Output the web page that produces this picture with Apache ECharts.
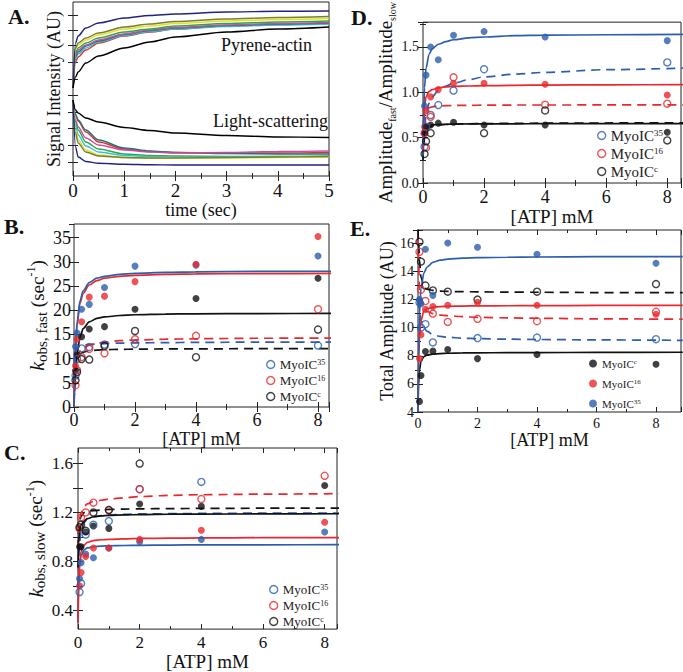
<!DOCTYPE html>
<html>
<head>
<meta charset="utf-8">
<script src="https://cdn.jsdelivr.net/npm/echarts@6/dist/echarts.min.js"></script>
<style>
  html, body { margin: 0; padding: 0; background: #fff; }
  #chart { width: 683px; height: 672px; }
</style>
</head>
<body>
<div id="chart"></div>
<script>
const FONT = 'Liberation Serif, serif'
const BLUE = '#2d5eab'
const RED = '#e8282d'
const BLACK = '#111111'

// ---- panel A: stopped-flow traces ----
const timeSec = [0, 0.05, 0.1, 0.25, 0.5, 1, 1.5, 2, 3, 4, 5]
const pyreneNavy = [8.8, 13.3, 14.0, 14.8, 15.3, 15.8, 16.05, 16.2, 16.4, 16.47, 16.5]
const pyreneOlive = [8.8, 12.8, 13.3, 13.8, 14.3, 14.9, 15.2, 15.45, 15.7, 15.85, 15.95]
const pyreneYellow = [8.8, 12.6, 13.1, 13.6, 14.1, 14.7, 15.0, 15.25, 15.5, 15.65, 15.75]
const pyreneGreen = [8.8, 12.3, 12.8, 13.3, 13.8, 14.4, 14.7, 15.0, 15.25, 15.4, 15.5]
const pyreneMagenta = [8.8, 12.1, 12.6, 13.1, 13.6, 14.2, 14.6, 14.85, 15.1, 15.25, 15.35]
const pyreneTeal = [8.8, 11.9, 12.4, 13.0, 13.5, 14.15, 14.55, 14.8, 15.05, 15.2, 15.3]
const pyreneCyan = [8.8, 11.7, 12.2, 12.8, 13.4, 14.05, 14.45, 14.7, 14.95, 15.1, 15.2]
const pyreneRed = [8.8, 11.4, 11.9, 12.6, 13.3, 14.0, 14.4, 14.7, 15.0, 15.15, 15.25]
const pyreneBlack = [8.8, 9.9, 10.4, 11.3, 12.0, 12.8, 13.4, 13.9, 14.4, 14.7, 14.9]
const scatterBlack = [7.6, 6.6, 6.3, 5.8, 5.4, 4.85, 4.55, 4.3, 4.05, 3.9, 3.85]
const scatterRed = [7.6, 6.1, 5.5, 4.4, 3.4, 2.7, 2.45, 2.35, 2.3, 2.3, 2.35]
const scatterTeal = [7.6, 6.2, 5.6, 4.6, 3.6, 2.8, 2.5, 2.35, 2.25, 2.2, 2.2]
const scatterMagenta = [7.6, 5.6, 4.9, 3.8, 3.1, 2.6, 2.4, 2.3, 2.35, 2.45, 2.5]
const scatterGreen = [7.6, 5.4, 4.6, 3.4, 2.7, 2.2, 2.05, 2.0, 1.95, 1.95, 1.95]
const scatterCyan = [7.6, 5.0, 4.1, 3.0, 2.4, 2.05, 1.95, 1.9, 1.9, 1.95, 2.0]
const scatterYellow = [7.6, 4.6, 3.6, 2.6, 2.1, 1.85, 1.8, 1.8, 1.8, 1.85, 1.9]
const scatterOlive = [7.6, 4.3, 3.3, 2.4, 2.0, 1.85, 1.8, 1.8, 1.85, 1.9, 1.95]
const scatterNavy = [7.6, 2.9, 1.9, 1.45, 1.27, 1.17, 1.12, 1.1, 1.1, 1.1, 1.1]
const signalTicks = [1.4, 3.1, 4.8, 6.4, 8.1, 9.7, 11.4, 13.1, 14.6, 16.1]

// ---- measured points, shared ATP concentrations (mM) ----
const atp = [0.05, 0.1, 0.25, 0.5, 1, 2, 4, 8]
const fitAtp = [0, 0.02, 0.05, 0.1, 0.2, 0.3, 0.5, 0.75, 1, 1.5, 2, 3, 4, 6, 8.9]

// panel B: k_obs fast
const bBlueFilled = [12.5, 15.3, 20.2, 21.2, 24.7, 29.1, 29.3, 31.2]
const bRedFilled = [8.5, 14.0, 17.6, 22.7, 22.9, 25.9, 29.5, 35.2]
const bBlackFilled = [7.5, 10.8, 14.5, 16.1, 16.6, 20.2, 22.4, 26.6]
const bBlueOpen = [6.5, 9.9, 12.1, 12.4, 12.9, 13.0, null, 12.7]
const bRedOpen = [4.5, 7.6, 10.3, 12.0, 11.1, 14.0, 14.7, 20.2]
const bBlackOpen = [5.5, 7.2, 9.9, 9.8, 12.6, 15.7, 10.3, 16.0]
const bBlueFit = [0, 6.5, 12.5, 17.5, 22.0, 24.0, 25.7, 26.6, 27.0, 27.4, 27.6, 27.8, 27.9, 28.0, 28.05]
const bRedFit = [0, 6, 12, 17, 21.5, 23.5, 25.2, 26.1, 26.6, 27.0, 27.2, 27.4, 27.5, 27.55, 27.6]
const bBlackFit = [0, 3, 7, 11, 14.5, 16.2, 17.6, 18.3, 18.6, 18.9, 19.05, 19.2, 19.25, 19.3, 19.35]
const bBlueDash = [8, 10, 11.5, 12.2, 12.6, 12.8, 12.9, 13.0, 13.1, 13.2, 13.25, 13.3, 13.35, 13.4, 13.4]
const bRedDash = [7, 8.5, 9.5, 10.5, 11.5, 12.2, 12.8, 13.2, 13.4, 13.7, 13.85, 14.0, 14.1, 14.2, 14.25]
const bBlackDash = [5, 7, 9, 10.3, 11.0, 11.3, 11.6, 11.75, 11.85, 11.9, 11.95, 12.0, 12.0, 12.05, 12.05]

// panel C: k_obs slow
const cBlueFilled = [0.66, 0.79, 0.86, 0.83, 0.91, 0.96, 0.98, 1.04]
const cRedFilled = [0.60, 0.71, 0.84, 0.91, 0.91, 0.98, 1.055, 1.12]
const cBlackFilled = [0.92, 0.92, 1.04, 1.09, 1.07, 1.27, 1.25, 1.42]
const cBlueOpen = [0.55, 0.62, 1.02, 1.10, 1.13, 1.39, 1.45, null]
const cRedOpen = [1.07, 1.16, 1.20, 1.28, 1.22, 1.39, 1.31, 1.50]
const cBlackOpen = [1.08, 1.10, 1.05, 1.20, 1.22, 1.60, null, null]
const cBlueFit = [0.3, 0.6, 0.76, 0.85, 0.895, 0.91, 0.92, 0.925, 0.928, 0.93, 0.932, 0.934, 0.935, 0.936, 0.937]
const cRedFit = [0.3, 0.6, 0.78, 0.88, 0.935, 0.955, 0.97, 0.977, 0.981, 0.985, 0.988, 0.99, 0.992, 0.994, 0.995]
const cBlackFit = [0.75, 0.95, 1.05, 1.1, 1.13, 1.15, 1.165, 1.172, 1.176, 1.18, 1.183, 1.186, 1.187, 1.188, 1.19]
const cBlueDash = [0.6, 0.8, 0.95, 1.05, 1.12, 1.145, 1.165, 1.175, 1.18, 1.185, 1.188, 1.19, 1.192, 1.195, 1.195]
const cRedDash = [0.9, 1.05, 1.15, 1.2, 1.25, 1.27, 1.29, 1.3, 1.31, 1.32, 1.33, 1.34, 1.345, 1.35, 1.355]
const cBlackDash = [0.9, 1.05, 1.13, 1.17, 1.2, 1.21, 1.215, 1.22, 1.225, 1.228, 1.23, 1.232, 1.233, 1.235, 1.235]

// panel D: amplitude ratio
const dBlueFilled = [0.85, 1.19, 1.50, 1.36, 1.63, 1.67, 1.61, 1.57]
const dRedFilled = [0.62, 0.80, 0.95, 1.03, 1.10, 1.10, 1.09, 0.97]
const dBlackFilled = [0.55, 0.62, 0.64, 0.66, 0.67, 0.64, 0.64, 0.56]
const dBlueOpen = [0.40, 0.62, 0.75, 0.86, 1.02, 1.255, null, 1.33]
const dRedOpen = [0.55, 0.39, 0.73, null, 1.165, null, 0.864, 0.875]
const dBlackOpen = [0.32, 0.46, 0.55, null, null, 0.55, 0.80, 0.47]
const dBlueFit = [0.3, 0.75, 1.05, 1.27, 1.42, 1.48, 1.53, 1.56, 1.58, 1.6, 1.61, 1.625, 1.63, 1.635, 1.64]
const dRedFit = [0.5, 0.7, 0.85, 0.95, 1.01, 1.03, 1.05, 1.06, 1.065, 1.07, 1.073, 1.077, 1.08, 1.083, 1.085]
const dBlackFit = [0.3, 0.45, 0.55, 0.6, 0.63, 0.64, 0.645, 0.648, 0.65, 0.651, 0.652, 0.653, 0.654, 0.655, 0.655]
const dBlueDash = [0.3, 0.45, 0.6, 0.75, 0.88, 0.95, 1.02, 1.07, 1.1, 1.14, 1.17, 1.2, 1.22, 1.25, 1.27]
const dRedDash = [0.5, 0.65, 0.75, 0.8, 0.83, 0.84, 0.85, 0.853, 0.855, 0.857, 0.858, 0.86, 0.86, 0.861, 0.862]
const dBlackDash = [0.25, 0.4, 0.5, 0.57, 0.61, 0.63, 0.64, 0.645, 0.65, 0.653, 0.655, 0.658, 0.66, 0.662, 0.663]

// panel E: total amplitude
const eBlackFilled = [4.75, 6.6, 8.3, 8.33, 8.45, 7.8, 8.09, 7.4]
const eRedFilled = [7.8, 9.5, 11.3, 11.5, 11.6, 11.8, 11.6, 10.96]
const eBlueFilled = [12.0, 11.7, 15.58, 12.3, 16.02, 15.72, 15.22, 14.58]
const eBlackOpen = [16.1, 14.7, 13.0, 12.65, 12.56, 12.0, 12.56, 13.1]
const eRedOpen = [15.4, 12.7, 11.9, 11.0, 10.41, 10.63, 10.46, 11.13]
const eBlueOpen = [11.8, 10.0, 10.25, 8.95, null, 9.26, 9.3, 9.18]
const eBlueFit = [4, 8, 11, 12.8, 13.9, 14.3, 14.65, 14.8, 14.88, 14.95, 14.98, 15.01, 15.03, 15.05, 15.06]
const eRedFit = [4, 7.5, 9.3, 10.5, 11.2, 11.35, 11.45, 11.5, 11.52, 11.54, 11.55, 11.56, 11.57, 11.58, 11.58]
const eBlackFit = [4, 6.0, 7.0, 7.6, 7.95, 8.05, 8.12, 8.16, 8.18, 8.2, 8.21, 8.22, 8.23, 8.24, 8.25]
const eBlueDash = [12, 11.5, 11, 10.5, 10.0, 9.75, 9.5, 9.38, 9.32, 9.25, 9.22, 9.18, 9.16, 9.13, 9.1]
const eRedDash = [16.5, 14.5, 12.8, 11.9, 11.35, 11.15, 11.0, 10.9, 10.85, 10.78, 10.74, 10.7, 10.67, 10.63, 10.6]
const eBlackDash = [17, 16, 14.8, 13.6, 12.9, 12.75, 12.65, 12.6, 12.58, 12.56, 12.55, 12.53, 12.52, 12.5, 12.5]

const legendIds = ['35', '16', 'c']

// ---------- helpers ----------
const tickStyle = { inside: true, length: 5, lineStyle: { color: '#222', width: 1 } }

function axes(gi, o) {
  const base = {
    gridIndex: gi, type: 'value', min: o.min, max: o.max, interval: o.interval,
    axisLine: { show: false }, splitLine: { show: false },
    axisTick: Object.assign({}, tickStyle, o.ticks ? { customValues: o.ticks } : {}),
    minorTick: { show: !!o.minor, splitNumber: o.minor || 2, length: 3, lineStyle: { color: '#222' } }
  }
  const label = {
    show: o.labels !== false, fontFamily: FONT, fontSize: o.fs, color: '#111', margin: o.margin || 6,
    formatter: o.fmt
  }
  if (o.labelValues) label.customValues = o.labelValues
  else label.showMaxLabel = !!o.showMax
  const main = Object.assign({}, base, {
    position: o.pos,
    name: o.name, nameLocation: 'middle', nameGap: o.gap,
    nameTextStyle: { fontFamily: FONT, fontSize: o.nameSize || 17, color: '#111', rich: o.rich },
    axisLabel: label
  })
  const mirror = Object.assign({}, base, {
    position: o.pos === 'bottom' ? 'top' : 'right',
    axisLabel: { show: false }
  })
  return [main, mirror]
}

function trace(xs, ys, color) {
  return {
    type: 'line', xAxisIndex: 0, yAxisIndex: 0, silent: true,
    data: xs.map((x, i) => [x, ys[i]]), symbol: 'none', smooth: 0.3, smoothMonotone: 'x',
    lineStyle: { color, width: 1.4 }
  }
}

function fit(p, ys, color, dashed) {
  return {
    type: 'line', xAxisIndex: 2 * p, yAxisIndex: 2 * p, silent: true, z: 2,
    data: fitAtp.map((x, i) => [x, ys[i]]), symbol: 'none', smooth: 0.3, smoothMonotone: 'x',
    lineStyle: { color, width: 1.7, type: dashed ? [9, 6] : 'solid' }
  }
}

function pts(p, ys, color, open, name) {
  return {
    type: 'scatter', name, xAxisIndex: 2 * p, yAxisIndex: 2 * p, z: 3,
    data: atp.map((x, i) => [x, ys[i]]).filter(d => d[1] != null),
    symbol: 'circle', symbolSize: 7,
    itemStyle: open
      ? { color: 'rgba(255,255,255,0)', borderColor: color, borderWidth: 1.4 }
      : { color }
  }
}

function legendBox(p, ids, colors, open, left, top, gap, size) {
  return {
    left, top, orient: 'vertical', itemGap: gap, itemWidth: 8, itemHeight: 8,
    icon: 'circle', selectedMode: false, padding: 0,
    data: ids.map((id, i) => ({
      name: p + '|' + id,
      itemStyle: open
        ? { color: 'rgba(255,255,255,0)', borderColor: colors[i], borderWidth: 1.4 }
        : { color: colors[i], borderWidth: 0 }
    })),
    formatter: name => '{t|MyoIC}{p|' + name.split('|')[1] + '}',
    textStyle: {
      fontFamily: FONT, color: '#222',
      rich: {
        t: { fontFamily: FONT, fontSize: size, lineHeight: size, verticalAlign: 'bottom' },
        p: { fontFamily: FONT, fontSize: Math.round(size * 0.62), lineHeight: size, verticalAlign: 'top' }
      }
    }
  }
}

const kRich = {
  k: { fontFamily: FONT, fontSize: 20, fontStyle: 'italic', lineHeight: 24, verticalAlign: 'middle' },
  s: { fontFamily: FONT, fontSize: 15, lineHeight: 24, verticalAlign: 'bottom' },
  n: { fontFamily: FONT, fontSize: 19, lineHeight: 24, verticalAlign: 'middle' },
  p: { fontFamily: FONT, fontSize: 12, lineHeight: 24, verticalAlign: 'top' }
}
const ampRich = {
  n: { fontFamily: FONT, fontSize: 19, lineHeight: 24, verticalAlign: 'middle' },
  s: { fontFamily: FONT, fontSize: 10, lineHeight: 24, verticalAlign: 'bottom' }
}

const gridBox = { show: true, borderColor: '#222', borderWidth: 1, backgroundColor: 'transparent' }

const option = {
  animation: false,
  backgroundColor: '#fff',
  grid: [
    Object.assign({ left: 73, top: 2, width: 256, height: 174 }, gridBox),
    Object.assign({ left: 74, top: 224, width: 255, height: 183 }, gridBox),
    Object.assign({ left: 78, top: 448, width: 259, height: 187 }, gridBox),
    Object.assign({ left: 423, top: 2, width: 258, height: 181 }, gridBox),
    Object.assign({ left: 418, top: 230, width: 263, height: 182 }, gridBox)
  ],
  xAxis: [
    ...axes(0, { pos: 'bottom', min: 0, max: 5, interval: 1, minor: 2, fs: 19, margin: 5, showMax: true, name: 'time (sec)', gap: 20, nameSize: 18 }),
    ...axes(1, { pos: 'bottom', min: 0, max: 8.36, interval: 2, minor: 2, fs: 18, margin: 4, name: '[ATP] mM', gap: 21, nameSize: 18 }),
    ...axes(2, { pos: 'bottom', min: 0, max: 8.4, interval: 2, minor: 2, fs: 17, margin: 5, name: '[ATP] mM', gap: 21, nameSize: 19 }),
    ...axes(3, { pos: 'bottom', min: 0, max: 8.45, interval: 2, minor: 2, fs: 18, margin: 5, name: '[ATP] mM', gap: 23, nameSize: 19 }),
    ...axes(4, { pos: 'bottom', min: 0, max: 8.84, interval: 2, minor: 2, fs: 14, margin: 4, name: '[ATP] mM', gap: 18, nameSize: 18 })
  ],
  yAxis: [
    ...axes(0, { pos: 'left', min: 0, max: 17.4, ticks: signalTicks, labels: false, name: 'Signal Intensity (AU)', gap: 10, nameSize: 18 }),
    ...axes(1, { pos: 'left', min: 0, max: 37.8, interval: 5, fs: 18, margin: 3, gap: 22,
      name: '{k|k}{s|obs, fast}{n| (sec}{p|-1}{n|)}', rich: kRich }),
    ...axes(2, { pos: 'left', min: 0.247, max: 1.727, fs: 17, margin: 5, gap: 28,
      ticks: [0.4, 0.6, 0.8, 1.0, 1.2, 1.4, 1.6], labelValues: [0.4, 0.8, 1.2, 1.6],
      fmt: v => v.toFixed(1), name: '{k|k}{s|obs, slow}{n| (sec}{p|-1}{n|)}', rich: kRich }),
    ...axes(3, { pos: 'left', min: 0, max: 1.774, interval: 0.5, minor: 2, fs: 14, margin: 4, gap: 24,
      fmt: v => v.toFixed(1), name: '{n|Amplitude}{s|fast}{n|/Amplitude}{s|slow}', rich: ampRich }),
    ...axes(4, { pos: 'left', min: 4, max: 16.95, interval: 2, minor: 2, fs: 14, margin: 4, gap: 22,
      name: 'Total Amplitude (AU)', nameSize: 18 })
  ],
  legend: [
    legendBox('B', legendIds, [BLUE, RED, BLACK], true, 266, 358, 3, 13),
    legendBox('C', legendIds, [BLUE, RED, BLACK], true, 269, 583, 3, 13),
    legendBox('D', legendIds, [BLUE, RED, BLACK], true, 597, 128, 3, 15),
    legendBox('E', ['c', '16', '35'], [BLACK, RED, BLUE], false, 589, 358, 9, 11)
  ],
  graphic: [
    { type: 'text', left: 8, top: 5, style: { text: 'A.', font: 'bold 22px ' + FONT, fill: '#111' } },
    { type: 'text', left: 4, top: 215, style: { text: 'B.', font: 'bold 22px ' + FONT, fill: '#111' } },
    { type: 'text', left: 4, top: 441, style: { text: 'C.', font: 'bold 22px ' + FONT, fill: '#111' } },
    { type: 'text', left: 351, top: 6, style: { text: 'D.', font: 'bold 22px ' + FONT, fill: '#111' } },
    { type: 'text', left: 350, top: 217, style: { text: 'E.', font: 'bold 22px ' + FONT, fill: '#111' } },
    { type: 'text', left: 221, top: 36, style: { text: 'Pyrene-actin', font: '18px ' + FONT, fill: '#111' } },
    { type: 'text', left: 213, top: 112, style: { text: 'Light-scattering', font: '18px ' + FONT, fill: '#111' } }
  ],
  series: [
    // A
    trace(timeSec, pyreneRed, '#e2312c'),
    trace(timeSec, pyreneCyan, '#2fc2d8'),
    trace(timeSec, pyreneTeal, '#1f7480'),
    trace(timeSec, pyreneMagenta, '#d4489c'),
    trace(timeSec, pyreneGreen, '#27a84a'),
    trace(timeSec, pyreneYellow, '#e5df26'),
    trace(timeSec, pyreneOlive, '#7a7f2a'),
    trace(timeSec, pyreneNavy, '#22237e'),
    trace(timeSec, pyreneBlack, '#000000'),
    trace(timeSec, scatterRed, '#e2312c'),
    trace(timeSec, scatterTeal, '#1f7480'),
    trace(timeSec, scatterMagenta, '#d4489c'),
    trace(timeSec, scatterGreen, '#27a84a'),
    trace(timeSec, scatterCyan, '#2fc2d8'),
    trace(timeSec, scatterYellow, '#e5df26'),
    trace(timeSec, scatterOlive, '#7a7f2a'),
    trace(timeSec, scatterNavy, '#22237e'),
    trace(timeSec, scatterBlack, '#000000'),
    // B
    fit(1, bBlackDash, BLACK, true), fit(1, bBlueDash, BLUE, true), fit(1, bRedDash, RED, true),
    fit(1, bBlackFit, BLACK), fit(1, bRedFit, RED), fit(1, bBlueFit, BLUE),
    pts(1, bBlueFilled, BLUE), pts(1, bRedFilled, RED), pts(1, bBlackFilled, BLACK),
    pts(1, bBlueOpen, BLUE, true, 'B|35'), pts(1, bRedOpen, RED, true, 'B|16'), pts(1, bBlackOpen, BLACK, true, 'B|c'),
    // C
    fit(2, cBlueDash, BLUE, true), fit(2, cBlackDash, BLACK, true), fit(2, cRedDash, RED, true),
    fit(2, cBlueFit, BLUE), fit(2, cRedFit, RED), fit(2, cBlackFit, BLACK),
    pts(2, cBlueFilled, BLUE), pts(2, cRedFilled, RED), pts(2, cBlackFilled, BLACK),
    pts(2, cBlueOpen, BLUE, true, 'C|35'), pts(2, cRedOpen, RED, true, 'C|16'), pts(2, cBlackOpen, BLACK, true, 'C|c'),
    // D
    fit(3, dBlackDash, BLACK, true), fit(3, dRedDash, RED, true), fit(3, dBlueDash, BLUE, true),
    fit(3, dBlackFit, BLACK), fit(3, dRedFit, RED), fit(3, dBlueFit, BLUE),
    pts(3, dBlueFilled, BLUE), pts(3, dRedFilled, RED), pts(3, dBlackFilled, BLACK),
    pts(3, dBlueOpen, BLUE, true, 'D|35'), pts(3, dRedOpen, RED, true, 'D|16'), pts(3, dBlackOpen, BLACK, true, 'D|c'),
    // E
    fit(4, eBlueDash, BLUE, true), fit(4, eRedDash, RED, true), fit(4, eBlackDash, BLACK, true),
    fit(4, eBlackFit, BLACK), fit(4, eRedFit, RED), fit(4, eBlueFit, BLUE),
    pts(4, eBlackOpen, BLACK, true), pts(4, eRedOpen, RED, true), pts(4, eBlueOpen, BLUE, true),
    pts(4, eBlackFilled, BLACK, false, 'E|c'), pts(4, eRedFilled, RED, false, 'E|16'), pts(4, eBlueFilled, BLUE, false, 'E|35')
  ]
}

const chart = echarts.init(document.getElementById('chart'), null, { renderer: 'svg' })
chart.setOption(option)
</script>
</body>
</html>
